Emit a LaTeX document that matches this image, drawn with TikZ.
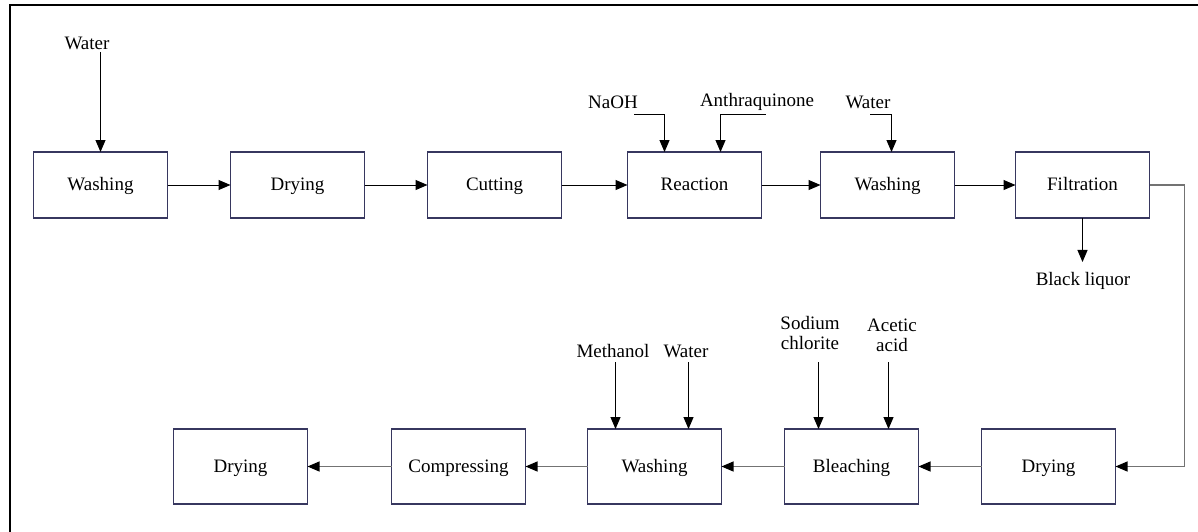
\documentclass[tikz,border=0pt]{standalone}
\usepackage{fontspec}
\setmainfont{Liberation Serif}
\usetikzlibrary{positioning,arrows.meta}

\begin{document}
\begin{tikzpicture}[
        x=0.5pt, y=-0.5pt,
        node distance=31.5pt,
        font=\fontsize{9.5}{11}\selectfont,
        >={Triangle[length=6pt,width=5pt,color=black]},
        unit/.style={rectangle, draw={rgb,255:red,55;green,55;blue,95}, line width=0.6pt, outer sep=0pt, align=center, minimum width=67pt, minimum height=33pt, inner sep=2pt, text height=1.6ex, text depth=0.4ex},
        unitlow/.style={unit, minimum height=37.5pt},
        lbl/.style={align=center, inner sep=1pt},
        arrow/.style={->, line width=0.5pt},
        flow/.style={->, line width=0.6pt, draw=black!55}
    ]
    \useasboundingbox (0,0) rectangle (1198,531);
    \draw[line width=1pt] (10,5) rectangle (1230,570);

    % upper line
    \node[unit] (wash1) at (100.5,185) {Washing};
    \node[unit, right=of wash1] (dry1) {Drying};
    \node[unit, right=of dry1] (cut) {Cutting};
    \node[unit, right=33pt of cut] (reac) {Reaction};
    \node[unit, right=29.5pt of reac] (wash2) {Washing};
    \node[unit, right=30.5pt of wash2] (filt) {Filtration};

    % lower line
    \node[unitlow] (dry2) at (1048.5,466.5) {Drying};
    \node[unitlow, left=of dry2] (bleach) {Bleaching};
    \node[unitlow, left=of bleach] (wash3) {Washing};
    \node[unitlow, left=31pt of wash3] (comp) {Compressing};
    \node[unitlow, left=42pt of comp] (dry3) {Drying};

    % feeds
    \node[lbl] (water1) at (87,43) {Water};
    \node[lbl] (naoh) at (613,102) {NaOH};
    \node[lbl] (anth) at (757,102) {Anthraquinone};
    \node[lbl] (water2) at (868,102) {Water};
    \node[lbl] (bliq) at (1083,281) {Black liquor};
    \node[lbl] (meth) at (613,351) {Methanol};
    \node[lbl] (water3) at (686,351) {Water};
    \node[lbl] (naclo) at (810,333) {Sodium\\[-1pt]chlorite};
    \node[lbl] (acet) at (892,335) {Acetic\\[-1pt]acid};

    \draw[arrow] (water1.south -| wash1.north) -- (wash1.north);
    \draw[arrow] (wash1) -- (dry1);
    \draw[arrow] (dry1) -- (cut);
    \draw[arrow] (cut) -- (reac);
    \draw[arrow] (reac) -- (wash2);
    \draw[arrow] (wash2) -- (filt);

    \draw[arrow, <-] ([xshift=-15pt]reac.north) |- ++(-31,-38);
    \draw[arrow, <-] ([xshift=13pt]reac.north) |- ++(45,-38);
    \draw[arrow, <-] ([xshift=2pt]wash2.north) |- ++(-22,-38);
    \draw[arrow] (filt.south) -- ([yshift=4pt]bliq.north -| filt.south);

    \draw[flow] (filt.east) -- ++(17.5pt,0) |- (dry2.east);
    \draw[flow] (dry2) -- (bleach);
    \draw[flow] (bleach) -- (wash3);
    \draw[flow] (wash3) -- (comp);
    \draw[flow] (comp) -- (dry3);

    \draw[arrow, <-] ([xshift=-19.5pt]wash3.north) -- ++(0,-67);
    \draw[arrow, <-] ([xshift=17pt]wash3.north) -- ++(0,-67);
    \draw[arrow, <-] ([xshift=-16.5pt]bleach.north) -- ++(0,-67);
    \draw[arrow, <-] ([xshift=18.5pt]bleach.north) -- ++(0,-67);
\end{tikzpicture}
\end{document}
